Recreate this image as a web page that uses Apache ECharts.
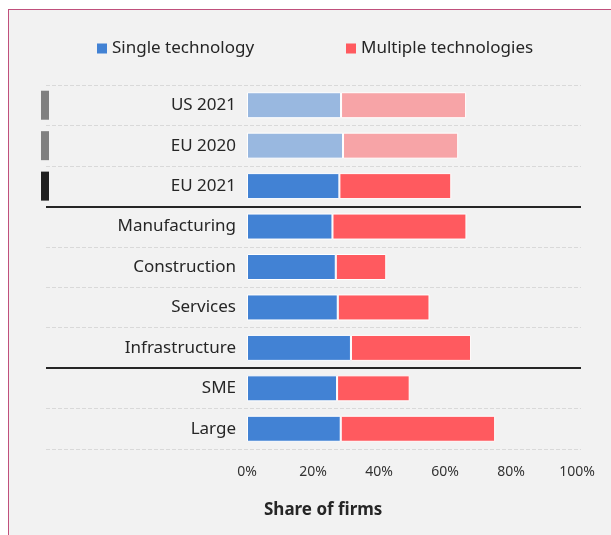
<!DOCTYPE html>
<html>
<head>
<meta charset="utf-8">
<script src="https://cdn.jsdelivr.net/npm/echarts@6/dist/echarts.min.js"></script>
<style>
  html, body { margin: 0; padding: 0; background: #fff; }
  .frame {
    position: absolute; left: 8px; top: 9px; right: 0; bottom: 0;
    background: #f2f2f2;
    border-left: 1px solid #c0507c; border-top: 1px solid #c0507c;
  }
  #chart { position: absolute; left: 0; top: 0; width: 611px; height: 535px; }
</style>
</head>
<body>
<div class="frame"></div>
<div id="chart"></div>
<script>
// rows, top to bottom
const categories = ['US 2021', 'EU 2020', 'EU 2021', 'Manufacturing', 'Construction', 'Services', 'Infrastructure', 'SME', 'Large']
// share of firms (%)
const singleTech = [28.5, 29.1, 28.0, 25.9, 26.9, 27.5, 31.5, 27.3, 28.4]
const multipleTech = [37.9, 34.9, 33.9, 40.6, 15.3, 27.8, 36.4, 22.0, 46.8]
// size of each block of rows, separated by solid lines
const groupSizes = [3, 4, 2]
// rows drawn as comparison (faded) and the EU 2021 reference row
const fadedRows = ['US 2021', 'EU 2020']
const keyRow = 'EU 2021'

const BLUE = '#4282d4', RED = '#ff5a5f'
const BLUE_FADED = '#99b8e0', RED_FADED = '#f7a4a7'
const FONT = 'Noto Sans'

// boundaries between the row blocks
const separators = []
let acc = 0
groupSizes.slice(0, -1).forEach(n => { acc += n; separators.push({ yAxis: acc }) })

const chart = echarts.init(document.getElementById('chart'))

const barData = (vals, base, faded) => vals.map((v, i) => ({
  value: v,
  itemStyle: { color: fadedRows.includes(categories[i]) ? faded : base }
}))

const legendBase = {
  top: 40, padding: 0, icon: 'rect', itemWidth: 10, itemHeight: 10, itemGap: 6,
  itemStyle: { borderWidth: 0 },
  textStyle: { color: '#262626', fontSize: 17, fontFamily: FONT }
}

chart.setOption({
  animation: false,
  textStyle: { fontFamily: FONT },
  legend: [
    Object.assign({ data: ['Single technology'], left: 97 }, legendBase),
    Object.assign({ data: ['Multiple technologies'], left: 346 }, legendBase)
  ],
  title: {
    text: 'Share of firms', left: 259, top: 497,
    textStyle: { color: '#262626', fontSize: 17, fontWeight: 'bold', fontFamily: FONT }
  },
  grid: [
    { left: 247, right: 34, top: 85, bottom: 86 },
    { left: 46, right: 30, top: 85, bottom: 86 }
  ],
  xAxis: [
    {
      gridIndex: 0, type: 'value', min: 0, max: 100, interval: 20,
      axisLine: { show: false }, axisTick: { show: false }, splitLine: { show: false },
      axisLabel: { color: '#333', fontSize: 14, margin: 16, formatter: '{value}%' }
    },
    { gridIndex: 1, type: 'value', min: 0, max: 100, show: false }
  ],
  yAxis: [
    {
      gridIndex: 0, type: 'category', data: categories, inverse: true,
      axisLine: { show: false }, axisTick: { show: false }, splitLine: { show: false },
      axisLabel: { color: '#262626', fontSize: 17, margin: 11 }
    },
    {
      gridIndex: 1, type: 'category', data: categories, inverse: true,
      axisLine: { show: false }, axisTick: { show: false },
      splitLine: { show: true, interval: 0, lineStyle: { color: '#d9d9d9', type: 'dashed', width: 1 } },
      axisLabel: {
        margin: -3, interval: 0,
        formatter: v => fadedRows.includes(v) ? '{g|}' : (v === keyRow ? '{k|}' : ''),
        rich: {
          g: { backgroundColor: '#808080', width: 8, height: 29 },
          k: { backgroundColor: '#1f1f1f', width: 8, height: 29 }
        }
      }
    },
    { gridIndex: 1, type: 'value', min: 0, max: categories.length, inverse: true, show: false }
  ],
  series: [
    {
      name: 'Single technology', type: 'bar', stack: 'total', barWidth: 26,
      xAxisIndex: 0, yAxisIndex: 0,
      itemStyle: { color: BLUE, borderColor: '#fff', borderWidth: 1 },
      data: barData(singleTech, BLUE, BLUE_FADED)
    },
    {
      name: 'Multiple technologies', type: 'bar', stack: 'total', barWidth: 26,
      xAxisIndex: 0, yAxisIndex: 0,
      itemStyle: { color: RED, borderColor: '#fff', borderWidth: 1 },
      data: barData(multipleTech, RED, RED_FADED)
    },
    {
      name: 'separators', type: 'line', xAxisIndex: 1, yAxisIndex: 2, data: [],
      markLine: {
        silent: true, symbol: 'none', label: { show: false },
        lineStyle: { color: '#262626', type: 'solid', width: 2 },
        data: separators
      }
    }
  ]
})
</script>
</body>
</html>
